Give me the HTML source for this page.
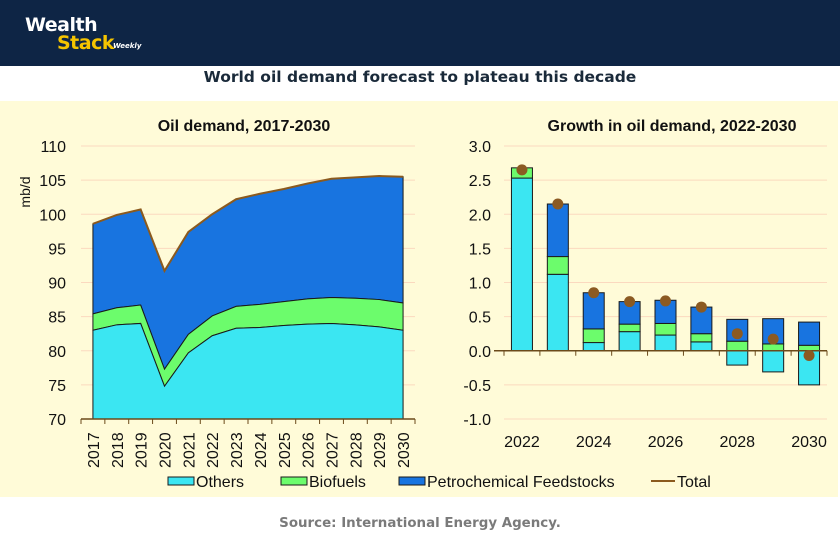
<!DOCTYPE html>
<html><head><meta charset="utf-8"><style>
body{margin:0;width:840px;height:537px;background:#fff;overflow:hidden;font-family:"Liberation Sans",sans-serif}
#hdr{position:absolute;left:0;top:0;width:840px;height:66px;background:#0e2545}
.lg1{position:absolute;left:25px;top:14px;color:#fff;font:bold 19px "DejaVu Sans",sans-serif;letter-spacing:-0.5px}
.lg2{position:absolute;left:57px;top:32px;color:#f5c400;font:bold 19px "DejaVu Sans",sans-serif;letter-spacing:-0.5px}
.lg3{position:absolute;left:113px;top:42px;color:#fff;font:italic bold 7px "DejaVu Sans",sans-serif}
#title{position:absolute;left:0;top:68px;width:840px;text-align:center;font:bold 15.5px "DejaVu Sans",sans-serif;color:#1a2a3a}
#src{position:absolute;left:0;top:516px;width:840px;text-align:center;font:bold 13.4px "DejaVu Sans",sans-serif;color:#7a7a7a}
svg{position:absolute;left:0;top:0}
</style></head><body>
<div id="hdr">
<div class="lg1">Wealth</div>
<div class="lg2">Stack</div>
<div class="lg3">Weekly</div>
</div>
<div id="title">World oil demand forecast to plateau this decade</div>
<svg id="chart" width="840" height="537"></svg>
<div id="src">Source: International Energy Agency.</div>
<script>
const years = ["2017","2018","2019","2020","2021","2022","2023","2024","2025","2026","2027","2028","2029","2030"];
const others = [83.0,83.8,84.0,74.8,79.7,82.2,83.3,83.4,83.7,83.9,84.0,83.8,83.5,83.0];
const biofuels = [2.4,2.5,2.7,2.5,2.7,2.9,3.2,3.4,3.5,3.7,3.8,3.9,4.0,4.0];
const petro = [13.2,13.6,14.0,14.4,15.0,14.9,15.7,16.2,16.5,16.9,17.4,17.7,18.1,18.5];
const leftTicks = [70,75,80,85,90,95,100,105,110];
const gYears = ["2022","2023","2024","2025","2026","2027","2028","2029","2030"];
const gLabels = ["2022","","2024","","2026","","2028","","2030"];
const gOthers = [2.53,1.12,0.12,0.28,0.23,0.13,-0.21,-0.31,-0.50];
const gBio = [0.15,0.26,0.20,0.11,0.17,0.12,0.14,0.10,0.08];
const gPetro = [0.0,0.77,0.53,0.33,0.34,0.39,0.32,0.37,0.34];
const gTotal = [2.65,2.15,0.85,0.72,0.73,0.64,0.25,0.17,-0.07];
const rightTicks = [-1.0,-0.5,0.0,0.5,1.0,1.5,2.0,2.5,3.0];

const S=document.getElementById('chart'),NS='http://www.w3.org/2000/svg';
function mk(t,a,p){const e=document.createElementNS(NS,t);for(const k in a)e.setAttribute(k,a[k]);(p||S).appendChild(e);return e;}
const C_O='#3be6f2',C_B='#6cfc6c',C_P='#1874e0',C_T='#8b5a1e',GRID='#fbd9bf';

const bg=mk('rect',{x:0,y:101,width:838,height:396,fill:'#fffbd8'});



// LEFT
const L={x0:81,x1:415,y0:419,y1:146,min:70,max:110};
const lx=i=>L.x0+(L.x1-L.x0)/years.length*(i+0.5);
const ly=v=>L.y0-(v-L.min)/(L.max-L.min)*(L.y0-L.y1);
leftTicks.forEach(v=>{
 if(v>L.min){const g=mk('line',{x1:L.x0,x2:L.x1,y1:ly(v),y2:ly(v),stroke:GRID,'stroke-width':1});
 }
 const t=mk('text',{x:66,y:ly(v)+6,'text-anchor':'end','font-size':16,fill:'#111'});t.textContent=v;
 
});
function area(lo,hi,fill,name){
 let d='';hi.forEach((v,i)=>d+=(i?'L':'M')+lx(i)+','+ly(v));
 for(let i=lo.length-1;i>=0;i--)d+='L'+lx(i)+','+ly(lo[i]);
 const p=mk('path',{d:d+'Z',fill:fill,stroke:'#1a1a1a','stroke-width':1});
 
}
const base=years.map(()=>L.min);
const s1=others.slice(),s2=others.map((v,i)=>v+biofuels[i]),s3=s2.map((v,i)=>v+petro[i]);
area(s2,s3,C_P,'area-petrochemical');
area(s1,s2,C_B,'area-biofuels');
area(base,s1,C_O,'area-others');
{let d='';s3.forEach((v,i)=>d+=(i?'L':'M')+lx(i)+','+ly(v));
const p=mk('path',{d:d,fill:'none',stroke:C_T,'stroke-width':2});
}
const la=mk('line',{x1:L.x0,x2:L.x1,y1:L.y0,y2:L.y0,stroke:'#6b4a1a','stroke-width':1.5});

years.forEach((y,i)=>{
 const bx=L.x0+(L.x1-L.x0)/years.length*i;
 mk('line',{x1:bx,x2:bx,y1:L.y0,y2:L.y0+5,stroke:'#6b4a1a'});
 const t=mk('text',{transform:`translate(${lx(i)+6},468) rotate(-90)`,'font-size':16,fill:'#111'});t.textContent=y;
 
});
mk('line',{x1:L.x1,x2:L.x1,y1:L.y0,y2:L.y0+5,stroke:'#6b4a1a'});
{const t=mk('text',{transform:'translate(30,192) rotate(-90)','font-size':14,'text-anchor':'middle',fill:'#111'});t.textContent='mb/d';
}
{const t=mk('text',{x:244,y:131,'font-size':16,'font-weight':'bold','text-anchor':'middle',fill:'#111'});t.textContent='Oil demand, 2017-2030';
}

// RIGHT
const R={x0:504,x1:827,min:-1,max:3,y0:419,y1:146};
const bw=(R.x1-R.x0)/gYears.length;
const rx=i=>R.x0+bw*(i+0.5);
const ry=v=>R.y0-(v-R.min)/(R.max-R.min)*(R.y0-R.y1);
rightTicks.forEach(v=>{
 const g=mk('line',{x1:R.x0,x2:R.x1,y1:ry(v),y2:ry(v),stroke:GRID,'stroke-width':1});
 
 const t=mk('text',{x:491,y:ry(v)+6,'text-anchor':'end','font-size':16,fill:'#111'});t.textContent=v.toFixed(1);
 
});
function bar(i,a,b,fill,name){
 if(a===b)return;const y1=ry(Math.max(a,b)),y2=ry(Math.min(a,b));
 const r=mk('rect',{x:rx(i)-10.5,y:y1,width:21,height:y2-y1,fill:fill,stroke:'#1a1a1a','stroke-width':1});
 
}
gYears.forEach((y,i)=>{
 const o=gOthers[i];
 bar(i,0,o,C_O,'bar-others-'+y);
 const b0=Math.max(0,o);
 bar(i,b0,b0+gBio[i],C_B,'bar-biofuels-'+y);
 bar(i,b0+gBio[i],b0+gBio[i]+gPetro[i],C_P,'bar-petrochemical-'+y);
});
const ra=mk('line',{x1:R.x0-10,x2:R.x1,y1:ry(0),y2:ry(0),stroke:'#6b4a1a','stroke-width':1.5});

for(let i=0;i<=gYears.length;i++){const bx=R.x0+bw*i;mk('line',{x1:bx,x2:bx,y1:ry(0),y2:ry(0)+5,stroke:'#6b4a1a'});}
gYears.forEach((y,i)=>{
 const c=mk('circle',{cx:rx(i),cy:ry(gTotal[i]),r:5.5,fill:'#8b5a22'});
 
 if(gLabels[i]){const t=mk('text',{x:rx(i),y:447,'text-anchor':'middle','font-size':16,fill:'#111'});t.textContent=gLabels[i];
 }
});
{const t=mk('text',{x:672,y:131,'font-size':16,'font-weight':'bold','text-anchor':'middle',fill:'#111'});t.textContent='Growth in oil demand, 2022-2030';
}

// LEGEND
const leg=[["Others",C_O,168],["Biofuels",C_B,281],["Petrochemical Feedstocks",C_P,399]];
leg.forEach(([n,c,x])=>{
 const g=mk('g',{});
 
 
 mk('rect',{x:x,y:477,width:26,height:8,fill:c,stroke:'#1a1a1a','stroke-width':1},g);
 const t=mk('text',{x:x+28,y:487,'font-size':16,fill:'#111'},g);t.textContent=n;
});
{const g=mk('g',{});


mk('line',{x1:651,x2:675,y1:481,y2:481,stroke:C_T,'stroke-width':2},g);
const t=mk('text',{x:677,y:487,'font-size':16,fill:'#111'},g);t.textContent='Total';}
</script>
</body></html>
